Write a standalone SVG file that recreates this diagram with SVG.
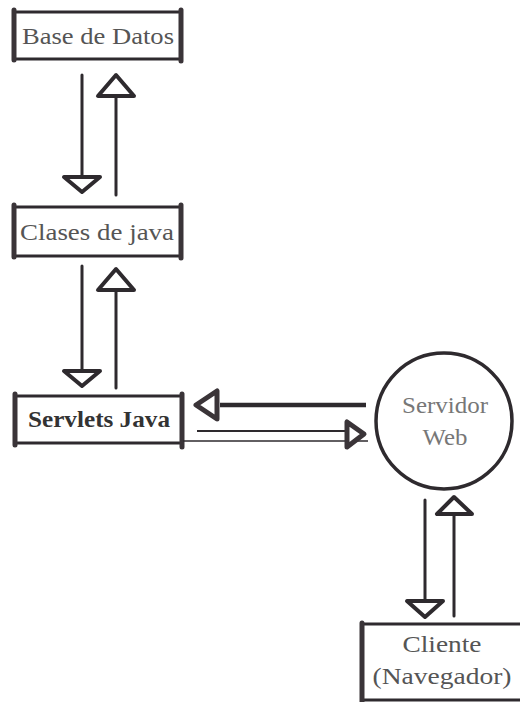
<svg xmlns="http://www.w3.org/2000/svg" width="520" height="702" viewBox="0 0 520 702">
<style>
.edge{stroke:#2e2a2e;stroke-width:3;fill:none;stroke-linecap:round}
.brk{stroke:#3a3438;stroke-width:5;stroke-linecap:round}
.head{fill:#fff;stroke:#2e2a2e;stroke-width:4;stroke-linejoin:round}
.fhead{fill:#fff;stroke:#3a3438;stroke-width:5;stroke-linejoin:round}
.lbl{font-family:"Liberation Serif","DejaVu Serif",serif;fill:#555;text-anchor:middle}
.line{stroke:#2e2a2e;fill:none}
</style>
<rect width="520" height="702" fill="#fff"/>
<g id="base-de-datos">
<line class="edge" x1="16" y1="12" x2="180" y2="12"/>
<line class="edge" x1="16" y1="59" x2="180" y2="59"/>
<line class="brk" x1="14" y1="10" x2="14" y2="60"/>
<line class="brk" x1="181" y1="10" x2="181" y2="61"/>
<text class="lbl" x="98" y="44" font-size="23" textLength="152" lengthAdjust="spacingAndGlyphs">Base de Datos</text>
</g>
<g id="clases-de-java">
<line class="edge" x1="16" y1="207" x2="180" y2="207"/>
<line class="edge" x1="16" y1="256" x2="180" y2="256"/>
<line class="brk" x1="14" y1="205" x2="14" y2="257"/>
<line class="brk" x1="181" y1="205" x2="181" y2="258"/>
<text class="lbl" x="97" y="240" font-size="23" textLength="154" lengthAdjust="spacingAndGlyphs">Clases de java</text>
</g>
<g id="servlets-java">
<line class="edge" x1="16" y1="396" x2="180" y2="396"/>
<line class="edge" x1="16" y1="443" x2="180" y2="443" stroke-width="2"/>
<line class="brk" x1="15" y1="394" x2="15" y2="445"/>
<line class="brk" x1="182" y1="394" x2="182" y2="447"/>
<text class="lbl" x="99" y="427" font-size="24" font-weight="bold" style="fill:#333" textLength="142" lengthAdjust="spacingAndGlyphs">Servlets Java</text>
</g>
<g id="servidor-web">
<circle cx="444" cy="421" r="68" fill="#fff" stroke="#2e2a2e" stroke-width="3.5"/>
<text class="lbl" x="445" y="413" font-size="23" style="fill:#777" textLength="86" lengthAdjust="spacingAndGlyphs">Servidor</text>
<text class="lbl" x="445" y="445" font-size="23" style="fill:#777" textLength="45" lengthAdjust="spacingAndGlyphs">Web</text>
</g>
<g id="cliente">
<line class="edge" x1="362" y1="624" x2="520" y2="624"/>
<line class="edge" x1="362" y1="700" x2="520" y2="700"/>
<line class="brk" x1="362" y1="623" x2="362" y2="702"/>
<text class="lbl" x="442" y="652" font-size="23" textLength="79" lengthAdjust="spacingAndGlyphs">Cliente</text>
<text class="lbl" x="442" y="684" font-size="23" textLength="139" lengthAdjust="spacingAndGlyphs">(Navegador)</text>
</g>
<g id="connectors">
<line class="edge" x1="82" y1="75" x2="82" y2="176" stroke-width="3.5"/>
<polygon class="head" points="64,177 100,177 82,192"/>
<line class="edge" x1="116" y1="96" x2="116" y2="195" stroke-width="3.5"/>
<polygon class="head" points="98,96 134,96 116,75"/>
<line class="edge" x1="82" y1="266" x2="82" y2="370" stroke-width="3.5"/>
<polygon class="head" points="64,371 100,371 82,386"/>
<line class="edge" x1="116" y1="290" x2="116" y2="388" stroke-width="3.5"/>
<polygon class="head" points="98,290 134,290 116,269"/>
<line class="line" x1="220" y1="405" x2="366" y2="405" stroke-width="4.5"/>
<polygon class="fhead" points="196,405 217,391 217,419"/>
<line class="line" x1="197" y1="431" x2="346" y2="431" stroke-width="2"/>
<line class="line" x1="183" y1="441" x2="368" y2="441" stroke-width="1.5"/>
<polygon class="fhead" points="364,434 347,422 347,447"/>
<line class="edge" x1="425" y1="500" x2="425" y2="600" stroke-width="3.5"/>
<polygon class="head" points="407,601 443,601 425,617"/>
<line class="edge" x1="454" y1="514" x2="454" y2="616" stroke-width="3.5"/>
<polygon class="head" points="437,514 472,514 454,497"/>
</g>
</svg>
